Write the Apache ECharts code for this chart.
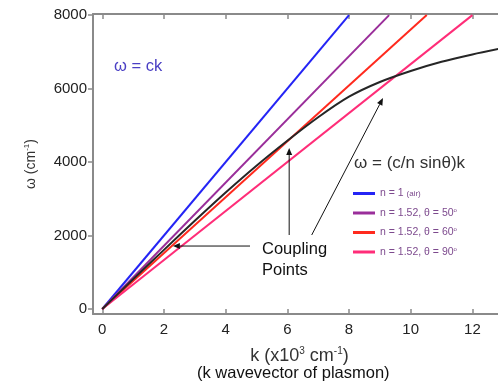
<!DOCTYPE html>
<html>
<head>
<meta charset="utf-8">
<script src="https://cdn.jsdelivr.net/npm/echarts@6/dist/echarts.min.js"></script>
<style>
  html, body { margin: 0; padding: 0; background: #fff; }
  #chart { width: 498px; height: 383px; }
</style>
</head>
<body>
<div id="chart"></div>
<script>
// Light lines ω = (c / n sinθ) k, each a straight line through the origin
const kTicks = [0, 2, 4, 6, 8, 10, 12];
const wTicks = [0, 2000, 4000, 6000, 8000];

const airLine  = [[0, 0], [8.0, 8000]];     // n = 1 (air)
const theta50  = [[0, 0], [9.3, 8000]];     // n = 1.52, θ = 50°
const theta60  = [[0, 0], [10.52, 8000]];   // n = 1.52, θ = 60°
const theta90  = [[0, 0], [12.0, 8000]];    // n = 1.52, θ = 90°

// Surface plasmon dispersion curve
const plasmonK = [0, 1, 2, 3, 4, 5, 6, 7, 8, 9, 10, 11, 12, 12.85];
const plasmonW = [0, 810, 1610, 2400, 3170, 3900, 4580, 5220, 5780, 6180, 6480, 6730, 6930, 7080];

// Annotation arrows: [start k, start ω, tip k, tip ω]
const couplingArrows = [
  [4.79, 1714, 2.29, 1714],
  [6.06, 2014, 6.06, 4381],
  [6.79, 2014, 9.10, 5741]
];

const seriesNames = [
  'n = 1 (air)',
  'n = 1.52, θ = 50°',
  'n = 1.52, θ = 60°',
  'n = 1.52, θ = 90°'
];
const legendRich = [
  'n = 1 {sm|(air)}',
  'n = 1.52, θ = 50{sup|o}',
  'n = 1.52, θ = 60{sup|o}',
  'n = 1.52, θ = 90{sup|o}'
];

const FONT = 'Liberation Sans, Arial, sans-serif';
const AXIS_GREY = '#8a8a8a';
const chart = echarts.init(document.getElementById('chart'), null, { renderer: 'canvas' });

function lineSeries(name, data, color) {
  return {
    name: name, type: 'line', data: data, symbol: 'none',
    lineStyle: { color: color, width: 2 }, itemStyle: { color: color },
    z: 3, animation: false
  };
}

chart.setOption({
  animation: false,
  grid: { left: 93, right: 0, top: 14, bottom: 69, containLabel: false },
  xAxis: [{
    type: 'value', min: -0.3, max: 12.83,
    axisLine: { show: true, onZero: false, lineStyle: { color: AXIS_GREY, width: 2 } },
    axisTick: { show: true, inside: true, length: 5, customValues: kTicks, lineStyle: { color: AXIS_GREY, width: 1.5 } },
    axisLabel: { customValues: kTicks, color: '#222', fontSize: 15, fontFamily: FONT, margin: 8 },
    splitLine: { show: false },
    name: 'k (x10{sup|3} cm{sup|-1})',
    nameLocation: 'middle', nameGap: 32,
    nameTextStyle: {
      color: '#333', fontSize: 18, fontFamily: FONT, padding: [0, 0, 0, 8],
      rich: { sup: { fontSize: 10, verticalAlign: 'top', padding: [0, 0, 10, 0], color: '#333', fontFamily: FONT } }
    }
  }, {
    type: 'value', position: 'top', min: -0.3, max: 12.83,
    axisLine: { show: true, onZero: false, lineStyle: { color: AXIS_GREY, width: 2 } },
    axisTick: { show: true, inside: true, length: 5, customValues: kTicks, lineStyle: { color: AXIS_GREY, width: 1.5 } },
    axisLabel: { show: false },
    splitLine: { show: false }
  }],
  yAxis: {
    type: 'value', min: -136, max: 8030,
    axisLine: { show: true, onZero: false, lineStyle: { color: AXIS_GREY, width: 2 } },
    axisTick: { show: true, inside: false, length: 5, customValues: wTicks, lineStyle: { color: AXIS_GREY, width: 1.5 } },
    axisLabel: { customValues: wTicks, color: '#222', fontSize: 15, fontFamily: FONT, margin: 6,
                 formatter: function (v) { return String(v); } },
    splitLine: { show: false },
    name: 'ω (cm{sup|-1})',
    nameLocation: 'middle', nameGap: 54, nameRotate: 90,
    nameTextStyle: {
      color: '#333', fontSize: 14, fontFamily: FONT,
      rich: { sup: { fontSize: 8, verticalAlign: 'top', padding: [0, 0, 8, 0], color: '#333', fontFamily: FONT } }
    }
  },
  legend: {
    data: seriesNames,
    orient: 'vertical', left: 348, top: 183,
    itemWidth: 22, itemHeight: 3, itemGap: 8,
    icon: 'rect',
    formatter: function (name) { return legendRich[seriesNames.indexOf(name)]; },
    textStyle: {
      color: '#7d4a8e', fontSize: 10.5, fontFamily: FONT,
      rich: {
        sm: { fontSize: 8, color: '#7d4a8e', fontFamily: FONT },
        sup: { fontSize: 6, color: '#7d4a8e', verticalAlign: 'top', padding: [0, 0, 6, 0], fontFamily: FONT }
      }
    }
  },
  series: [
    lineSeries(seriesNames[0], airLine, '#2424f5'),
    lineSeries(seriesNames[1], theta50, '#9a2e9a'),
    lineSeries(seriesNames[2], theta60, '#ff2a1e'),
    lineSeries(seriesNames[3], theta90, '#ff2d78'),
    {
      name: 'plasmon', type: 'line', symbol: 'none', smooth: 0.3, z: 4, animation: false,
      data: plasmonK.map((k, i) => [k, plasmonW[i]]),
      lineStyle: { color: '#262626', width: 2 }
    }
  ]
});

// Text labels plus arrows pointing at the coupling points (positions from the axes)
const graphics = [
  { type: 'text', left: 114, top: 58, style: { text: 'ω = ck', fill: '#4a3fc4', font: '16.5px ' + FONT } },
  { type: 'text', left: 354, top: 155, style: { text: 'ω = (c/n sinθ)k', fill: '#333', font: '17px ' + FONT } },
  { type: 'text', left: 262, top: 239, style: { text: 'Coupling\nPoints', fill: '#111', font: '16.5px ' + FONT, lineHeight: 21 } },
  { type: 'text', left: 197, top: 365, style: { text: '(k wavevector of plasmon)', fill: '#111', font: '16.5px ' + FONT } }
];
couplingArrows.forEach(function (a) {
  const p0 = chart.convertToPixel({ gridIndex: 0 }, [a[0], a[1]]);
  const p1 = chart.convertToPixel({ gridIndex: 0 }, [a[2], a[3]]);
  const dx = p1[0] - p0[0], dy = p1[1] - p0[1];
  const len = Math.sqrt(dx * dx + dy * dy);
  const ux = dx / len, uy = dy / len;
  const head = 7, half = 3;
  const bx = p1[0] - ux * head, by = p1[1] - uy * head;
  graphics.push({
    type: 'line', z: 10, silent: true,
    shape: { x1: p0[0], y1: p0[1], x2: bx, y2: by },
    style: { stroke: '#111', lineWidth: 1 }
  });
  graphics.push({
    type: 'polygon', z: 10, silent: true,
    shape: { points: [[p1[0], p1[1]], [bx - uy * half, by + ux * half], [bx + uy * half, by - ux * half]] },
    style: { fill: '#111' }
  });
});
chart.setOption({ graphic: graphics });
</script>
</body>
</html>
